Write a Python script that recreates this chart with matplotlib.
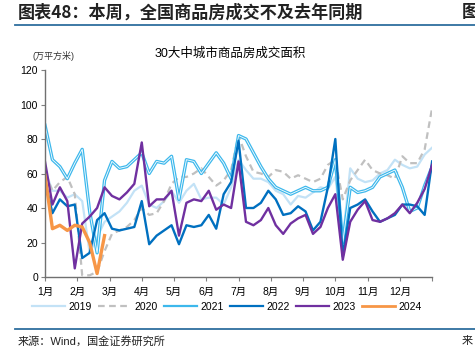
import numpy as np
import matplotlib
matplotlib.use("Agg")
import matplotlib.pyplot as plt
from matplotlib.lines import Line2D

plt.rcParams['font.family'] = ['Liberation Sans', 'Noto Sans CJK SC', 'DejaVu Sans']

# weekly readings, 53 points per year over Jan..Dec
weeks = np.arange(53)
x = weeks * 12 / 52

y2019 = [62, 50, 50, 46, 48, 44, 14, 23, 32, 35, 38, 43, 50, 53, 42, 40, 44, 50, 43, 50,
         54, 45, 46, 46, 42, 52, 68, 62, 57, 57, 55, 50, 48, 42, 47, 46, 49, 52, 51, 58,
         22, 63, 57, 55, 56, 60, 62, 68, 65, 63, 64, 71, 75]
y2020 = [60, 50, 55, 58, 48, 1, 1, 3, 15, 25, 27, 29, 33, 40, 36, 37, 44, 54, 58, 58,
         60, 63, 58, 53, 56, 62, 82, 70, 61, 60, 58, 62, 61, 57, 59, 57, 55, 57, 65, 68,
         45, 56, 62, 68, 62, 60, 59, 57, 70, 66, 66, 74, 98]
y2021 = [88, 68, 64, 57, 66, 74, 38, 14, 56, 67, 63, 64, 68, 72, 60, 67, 66, 70, 45, 68,
         67, 60, 66, 72, 66, 57, 82, 80, 72, 64, 57, 52, 50, 48, 50, 52, 50, 50, 52, 68,
         20, 52, 49, 50, 52, 58, 60, 62, 52, 38, 40, 53, 64]
y2022 = [56, 37, 45, 41, 42, 11, 14, 33, 37, 28, 27, 28, 29, 44, 19, 24, 27, 30, 19, 30,
         29, 30, 36, 28, 48, 55, 79, 40, 40, 43, 50, 45, 36, 37, 41, 38, 27, 32, 52, 80,
         12, 40, 42, 45, 38, 32, 34, 36, 42, 42, 41, 36, 67]
y2023 = [67, 42, 52, 44, 5, 31, 35, 40, 52, 47, 45, 49, 54, 78, 41, 45, 45, 50, 24, 43,
         45, 44, 50, 39, 42, 40, 67, 32, 30, 33, 40, 30, 25, 31, 34, 36, 25, 29, 40, 48,
         10, 32, 39, 44, 33, 32, 34, 37, 42, 37, 43, 51, 65]
y2024 = [59, 28, 30, 27, 30, 29, 20, 2, 24]

months = ["1月", "2月", "3月", "4月", "5月", "6月", "7月", "8月", "9月", "10月", "11月", "12月"]

fig = plt.figure(figsize=(4.75, 3.59), dpi=100)
ax = fig.add_axes([0.0947, 0.2284, 0.815, 0.5766])

ax.plot(x, y2019, color='#C3E2F6', lw=1.6, label='2019')
ax.plot(x, y2020, color='#C0C0C0', lw=1.6, ls=(0, (3, 2)), label='2020')
ax.plot(x, y2021, color='#3DB8EC', lw=2.4, label='2021')
ax.plot(x, y2021, color='white', lw=0.6)  # hollow look of the 2021 line
ax.plot(x, y2022, color='#0070C0', lw=1.7, label='2022')
ax.plot(x, y2023, color='#7030A0', lw=1.7, label='2023')
ax.plot(x[:len(y2024)], y2024, color='#F79646', lw=2.4, label='2024')

ax.set_xlim(0, 12)
ax.set_ylim(0, 120)
ax.set_yticks(range(0, 121, 20))
ax.set_xticks(range(13))
ax.set_xticklabels(months + [""])
ax.tick_params(axis='both', labelsize=7.5, length=3, width=0.8, color='#808080', pad=2)
ax.tick_params(axis='x', pad=4)
for s in ['top', 'right']:
    ax.spines[s].set_visible(False)
for s in ['left', 'bottom']:
    ax.spines[s].set_color('#707070')
    ax.spines[s].set_linewidth(1.0)

# legend with plain line handles
handles = [Line2D([], [], color='#C3E2F6', lw=1.6),
           Line2D([], [], color='#C0C0C0', lw=1.6, ls=(0, (3, 2))),
           Line2D([], [], color='#3DB8EC', lw=1.6),
           Line2D([], [], color='#0070C0', lw=1.6),
           Line2D([], [], color='#7030A0', lw=1.6),
           Line2D([], [], color='#F79646', lw=2.0)]
fig.legend(handles, ['2019', '2020', '2021', '2022', '2023', '2024'], loc='center',
           bbox_to_anchor=(0.477, 0.145), ncol=6, frameon=False, fontsize=7.5,
           handlelength=3.2, handletextpad=0.3, columnspacing=0.6)

# texts around the chart
fig.text(0.038, 0.966, "图表48：本周，全国商品房成交不及去年同期", fontsize=12.3,
         fontweight='bold', color='#222222', va='center', family='Noto Sans CJK SC')
fig.text(0.972, 0.966, "图", fontsize=12.3, fontweight='bold', color='#222222',
         va='center', family='Noto Sans CJK SC')
fig.text(0.485, 0.85, "30大中城市商品房成交面积", fontsize=9, ha='center', va='center')
fig.text(0.069, 0.845, "(万平方米)", fontsize=6.5, va='center', color='#333333')
fig.text(0.038, 0.05, "来源：Wind，国金证券研究所", fontsize=8, va='center', color='#222222')
fig.text(0.972, 0.05, "来", fontsize=8, va='center', color='#222222')

# rules under the title and above the source
fig.add_artist(Line2D([0.032, 1.0], [0.93, 0.93], color='#2E6E9E', lw=1.3))
fig.add_artist(Line2D([0.032, 1.0], [0.083, 0.083], color='#2E6E9E', lw=1.3))

fig.savefig("out.png", dpi=100)
